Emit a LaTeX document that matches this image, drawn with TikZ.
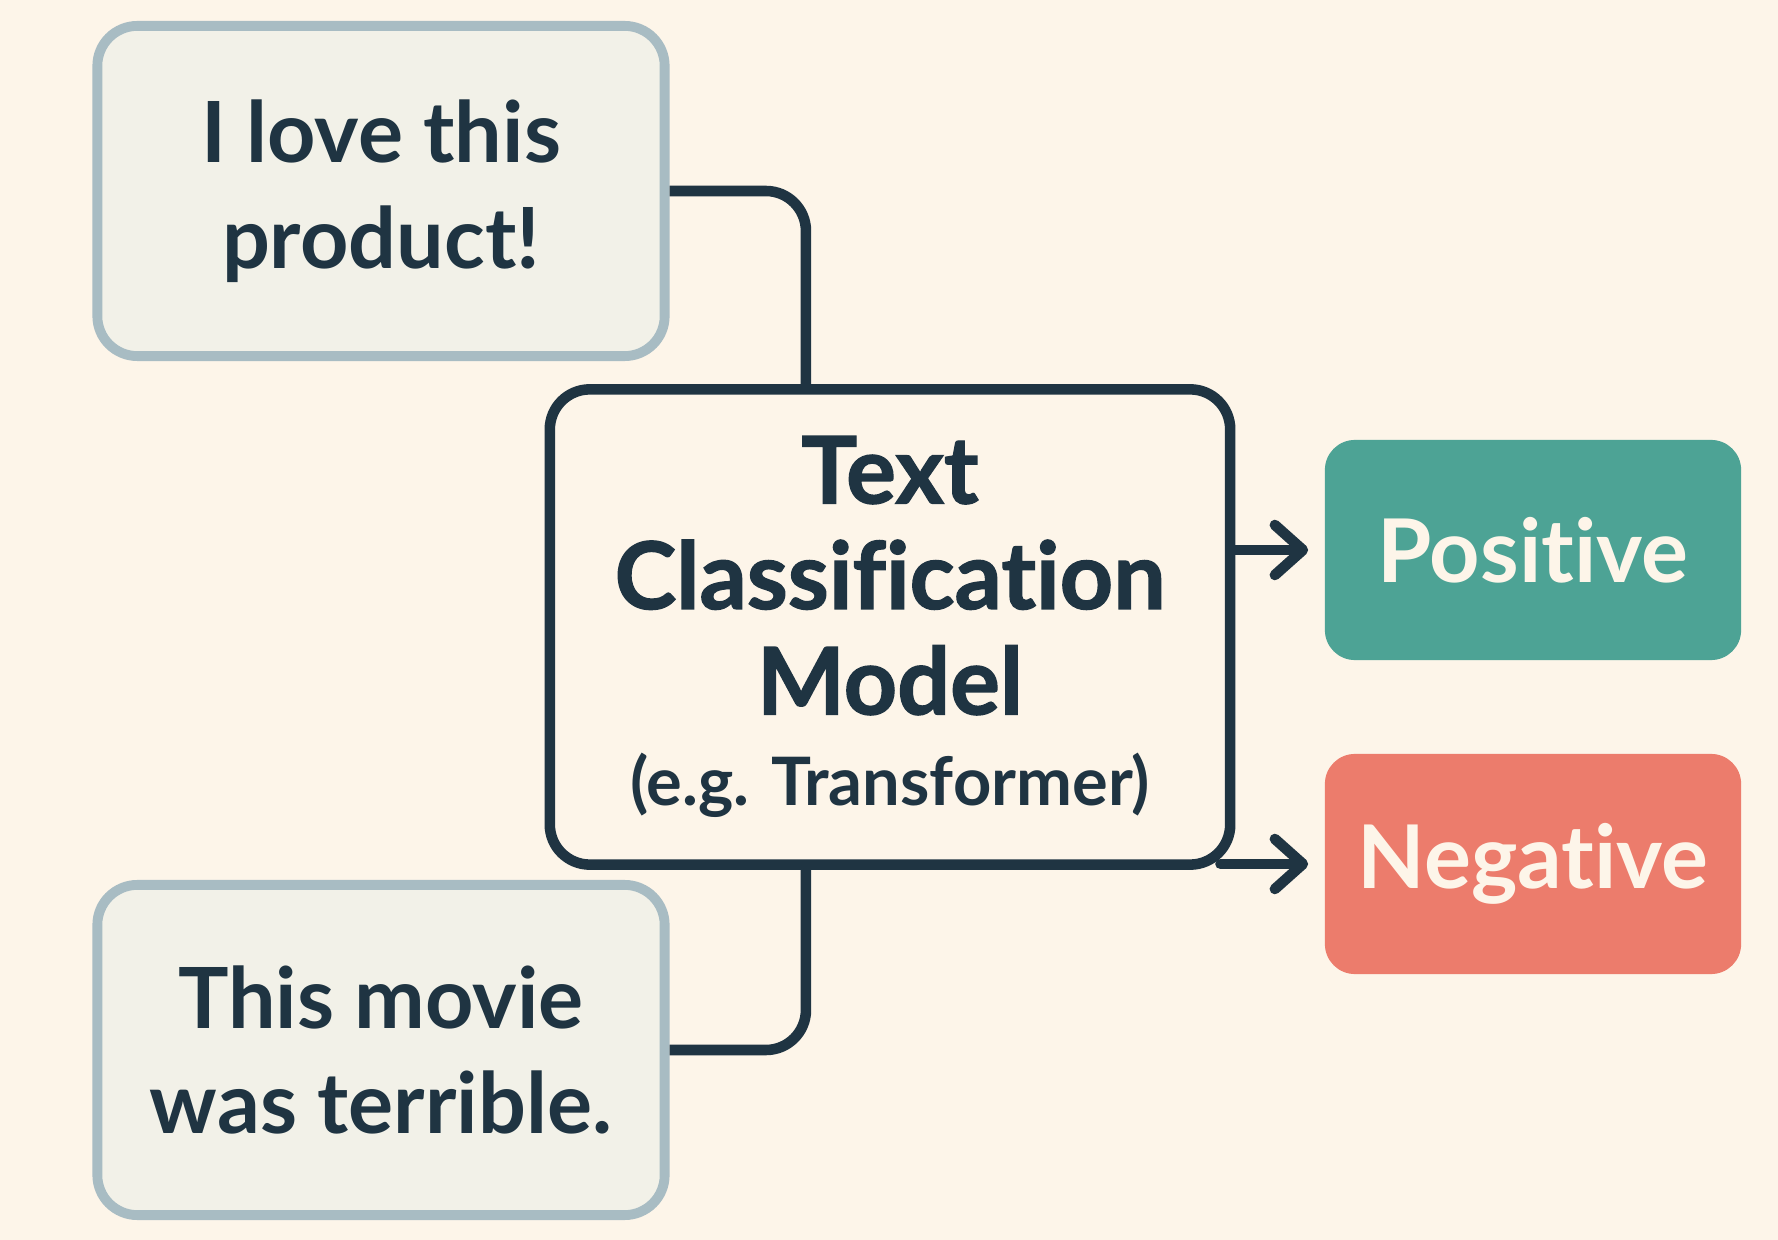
\documentclass[tikz,border=0pt]{standalone}
\usepackage{fontspec}
\setmainfont{Lato}[Ligatures={NoCommon}]
\newfontfamily\heavyfont{Lato}[Ligatures={NoCommon},BoldFeatures={FakeBold=1.4}]
\usetikzlibrary{arrows.meta,positioning}
\definecolor{paper}{RGB}{253,245,233}
\definecolor{inkdark}{RGB}{31,52,66}
\definecolor{inputfill}{RGB}{242,241,232}
\definecolor{inputline}{RGB}{168,188,195}
\definecolor{posfill}{RGB}{77,163,149}
\definecolor{negfill}{RGB}{236,124,108}
\tikzstyle{every node}=[align=center,text=inkdark]
\tikzstyle{inputbox}=[draw=inputline,fill=inputfill,line width=2.8pt,rounded corners=0.4cm,
  minimum width=5.67cm,minimum height=3.3cm,font=\fontsize{24}{30}\selectfont\bfseries]
\tikzstyle{modelbox}=[draw=inkdark,fill=paper,line width=3pt,rounded corners=0.4cm,
  minimum width=6.8cm,minimum height=4.75cm,font=\fontsize{26.5}{30}\selectfont\heavyfont\bfseries]
\tikzstyle{labelbox}=[draw=none,rounded corners=0.3cm,minimum width=4.16cm,minimum height=2.2cm,
  text=paper,font=\fontsize{25}{30}\selectfont\bfseries]
\tikzstyle{link}=[draw=inkdark,line width=3pt,rounded corners=0.4cm]
\tikzstyle{pointer}=[link,line cap=round,-{Straight Barb[length=0.28cm,width=0.5cm,line cap=round,round]}]

\begin{document}
\begin{tikzpicture}[x=0.01cm,y=-0.01cm]
  \fill[paper] (0,0) rectangle (1778,1240);
  \useasboundingbox (0,0) rectangle (1778,1240);
  \node[inputbox] (love) at (381,191) {I love this\\product!};
  \node[inputbox] (movie) at (381,1050) {This movie\\was terrible.};
  \node[modelbox] (model) at (890,627) {Text\\Classification\\Model\\[-4pt]{\fontsize{19}{24}\selectfont\normalfont\bfseries(e.g. Transformer)}};
  \node[labelbox,fill=posfill] (pos) at (1533,550) {Positive};
  \node[labelbox,fill=negfill] (neg) at (1533,864) {Negative};
  \draw[link] (love.east) -| ([xshift=-0.84cm]model.north);
  \draw[link] (movie.east) -| ([xshift=-0.84cm]model.south);
  \draw[pointer] (model.east |- pos.west) -- ([xshift=-0.16cm]pos.west);
  \draw[pointer] ([xshift=-0.15cm]model.east |- neg.west) -- ([xshift=-0.16cm]neg.west);
\end{tikzpicture}
\end{document}
